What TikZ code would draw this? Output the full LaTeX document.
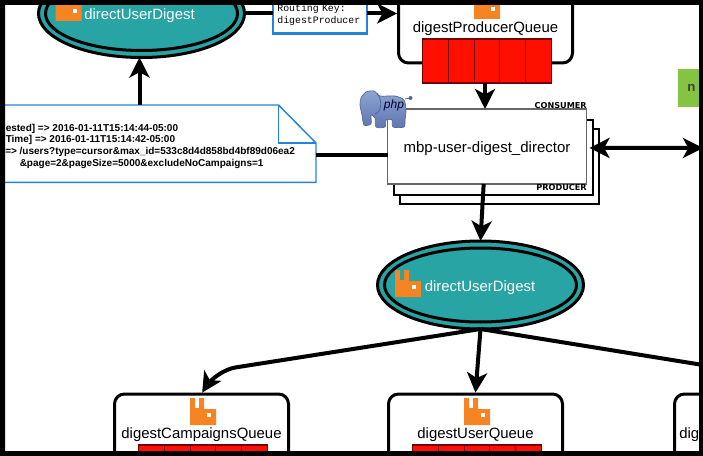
\documentclass[tikz,border=0pt]{standalone}
\usepackage{fontspec}
\setmainfont{Liberation Sans}
\newfontfamily\routeFont{Liberation Mono}
\newfontfamily\roleFont{DejaVu Sans}
\usepackage{xcolor}
\usepackage{tikz}
\usetikzlibrary{positioning,arrows.meta,shapes.geometric,calc}

\definecolor{tealFill}{HTML}{27A4A3}
\definecolor{rabbitOrange}{HTML}{F68422}
\definecolor{cellRed}{HTML}{FF0F00}
\definecolor{noteBlue}{HTML}{2484DC}
\definecolor{nodeGreen}{HTML}{85C441}
\definecolor{phpLight}{HTML}{8EA4D2}
\definecolor{phpDark}{HTML}{5F76B0}
\definecolor{phpLine}{HTML}{4F6599}

\begin{document}
\begin{tikzpicture}[
  x=0.75pt, y=-0.75pt, >=Stealth,
  exOuter/.style={draw, ellipse, line width=2.25pt, fill=tealFill, inner sep=0pt, outer sep=0pt,
               minimum width=154.5pt, minimum height=66pt},
  exInner/.style={draw, ellipse, line width=2.25pt, fill=tealFill, inner sep=0pt,
               minimum width=144pt, minimum height=55.5pt},
  exLabel/.style={text=white, inner sep=0pt, font=\fontsize{11.2}{13}\selectfont},
  queueBox/.style={draw, line width=2.25pt, rounded corners=7.5pt, fill=white, inner sep=0pt, outer sep=1pt,
               minimum width=130.5pt, minimum height=56.25pt},
  queueLabel/.style={inner sep=0pt, font=\fontsize{11.2}{13}\selectfont},
  cell/.style={draw=red!45!black, line width=.8pt, fill=cellRed, inner sep=0pt, outer sep=0pt,
               minimum width=19.3pt, minimum height=33pt},
  workerBox/.style={draw=black!60, line width=1.3pt, fill=white, inner sep=0pt, outer sep=0pt,
               minimum width=149.25pt, minimum height=56.25pt},
  workerBack/.style={draw, line width=.8pt, fill=white, inner sep=0pt,
               minimum width=149.25pt, minimum height=56.25pt},
  workerLabel/.style={inner sep=0pt, font=\fontsize{11.25}{14}\selectfont},
  roleLabel/.style={inner sep=0pt, anchor=east, font=\roleFont\bfseries\fontsize{6.1}{7}\selectfont},
  noteBack/.style={fill=white, inner sep=0pt, outer sep=0pt, minimum width=240.75pt, minimum height=58.1pt},
  noteLine/.style={draw=noteBlue, line width=1.1pt, line join=miter},
  noteText/.style={anchor=west, inner sep=0pt, font=\bfseries\fontsize{7.5}{9}\selectfont},
  routeBox/.style={draw=noteBlue, line width=1.7pt, fill=white, align=left, text width=64pt, inner xsep=3.4pt,
               inner ysep=0pt, outer sep=0pt, minimum height=28.5pt, font=\routeFont\fontsize{7.4}{9}\selectfont},
  arr/.style={-{Stealth[length=15pt,width=15pt,inset=4pt]}, line width=3pt},
  twoArr/.style={{Stealth[length=15pt,width=15pt,inset=4pt]}-{Stealth[length=15pt,width=15pt,inset=4pt]}, line width=3pt},
  wire/.style={line width=3pt},
  rabbit/.pic={
    \fill[rabbitOrange, even odd rule] (0,0) -- (5,0) -- (5,10) -- (9,10) -- (9,0) -- (14,0) -- (14,11)
      -- (26,11) -- (26,27) -- (0,27) -- cycle (17,15) rectangle (21,19);
    \fill[white] (17,15) rectangle (21,19);
  },
]
\path[use as bounding box, clip] (0,0) rectangle (703,456);

\node[exOuter] (exTop) at (141.5,13.5) {};
\node[exInner] (exTopIn) at (exTop) {};
\pic at (55.5,-6) {rabbit};
\node[exLabel] (exTopText) at (139.5,16) {directUserDigest};

\node[exOuter] (exLow) at (480.5,285) {};
\node[exInner] (exLowIn) at (exLow) {};
\pic at (395,270) {rabbit};
\node[exLabel] (exLowText) at (480,288) {directUserDigest};

\foreach \q/\qx/\qy/\qname in {qProducer/485.5/25.5/digestProducerQueue,
    qCampaigns/201.5/431.5/digestCampaignsQueue, qUser/475.5/431.5/digestUserQueue} {
  \node[queueBox] (\q) at (\qx,\qy) {};
  \pic at ({\qx-11.5},{\qy-33.5}) {rabbit};
  \node[queueLabel] (\q-text) at (\qx,{\qy+3.2}) {\qname};
  \foreach \i in {1,...,5}
    \node[cell] (\q-cell\i) at ({\qx+1.5+(\i-3)*25.7},{\qy+35.5}) {};
}
\node[queueBox] (qOther) at (761.5,431.5) {};
\node[queueLabel, anchor=west] (qOtherText) at (679,434.7) {dig};

\node[routeBox] (routing) at (320,14.5) {Routing Key:\\digestProducer};

\node[noteBack] (note) at (155.5,143.75) {};
\draw[noteLine] ($(note.north west)+(-5,0)$) -- (278.5,105) -- (note.east |- 0,143) -- (note.south east) -- ($(note.south west)+(-5,0)$);
\draw[noteLine] (278.5,105) -- (278.5,143) -- (note.east |- 0,143);
\node[noteText] (noteA) at (5.5,129) {ested] => 2016-01-11T15:14:44-05:00};
\node[noteText] (noteB) at (5.5,140) {Time] => 2016-01-11T15:14:42-05:00};
\node[noteText] (noteC) at (5,152) {=> /users?type=cursor\&max\_id=533c8d4d858bd4bf89d06ea2};
\node[noteText] (noteD) at (19.5,164) {\&page=2\&pageSize=5000\&excludeNoCampaigns=1};

\node[workerBack] (workerC) at (499.5,166.5) {};
\node[workerBack] (workerB) at (493.5,157.5) {};
\node[workerBox] (worker) at (487,146.5) {};
\node[workerLabel] (workerText) at (487,148.5) {mbp-user-digest\_director};
\node[roleLabel] (consumer) at (587,105.5) {CONSUMER};
\node[roleLabel] (producer) at (587,188) {PRODUCER};

\node[fill=nodeGreen, inner sep=0pt, minimum width=33pt, minimum height=28.3pt] (nodeBox) at (700,88) {};
\node[inner sep=0pt, text=black!75, font=\bfseries\fontsize{10}{12}\selectfont] (nodeText) at (691.5,88) {n};

\coordinate (workerIn) at ([yshift=-6.4pt]worker.west);
\coordinate (nodeEnd) at (703,148);
\coordinate (otherEnd) at (703,365);
\coordinate (campBend) at (216,370.5);

\draw[arr] ([xshift=-1.5pt]exTop.south |- note.north) -- ([xshift=-1.5pt]exTop.south);
\draw[wire] (exTop.east) -- (exTop.east -| routing.west);
\draw[arr] (routing.east |- exTop.east) -- (qProducer.west |- exTop.east);
\draw[arr] ([xshift=-1.5pt]qProducer-cell3.south) -- ([xshift=-1.5pt]worker.north);
\draw[wire] (note.east |- workerIn) -- (workerIn);
\draw[twoArr] ([xshift=2.25pt,yshift=-1.1pt]worker.east) -- (nodeEnd);
\draw[arr] ([xshift=-2.5pt]worker.south) -- (exLow.north);
\draw[arr, rounded corners=15pt] (exLow.south) -- (campBend) -- ([xshift=.5pt]qCampaigns.north);
\draw[arr] (exLow.south) -- (qUser.north);
\draw[wire] (exLow.south) -- (otherEnd);

\draw[draw=phpLine, line width=.5pt, top color=phpLight, bottom color=phpDark]
  plot[smooth cycle, tension=.45] coordinates {(361,98) (366,92) (374,91) (380,96) (395,96) (404,100) (406,110) (405,120)
    (404,127) (393,127) (392,120) (386,120) (385,127) (376,127) (375,118) (371,115) (371,124) (364,125) (362,115) (360,105)};
\draw[phpLine, line width=.6pt] (405,99) -- (410,98);
\fill[phpLine] (410.5,98) circle (2);
\draw[phpLine, line width=.6pt] (377,93) .. controls (384,103) and (380,113) .. (375,114);
\node[inner sep=0pt, text=black!80!blue, font=\itshape\fontsize{9}{10}\selectfont] (phpText) at (394,105) {php};

\fill[black, even odd rule] (0,0) rectangle (703,456) (5,5) rectangle (699,451);
\end{tikzpicture}
\end{document}
